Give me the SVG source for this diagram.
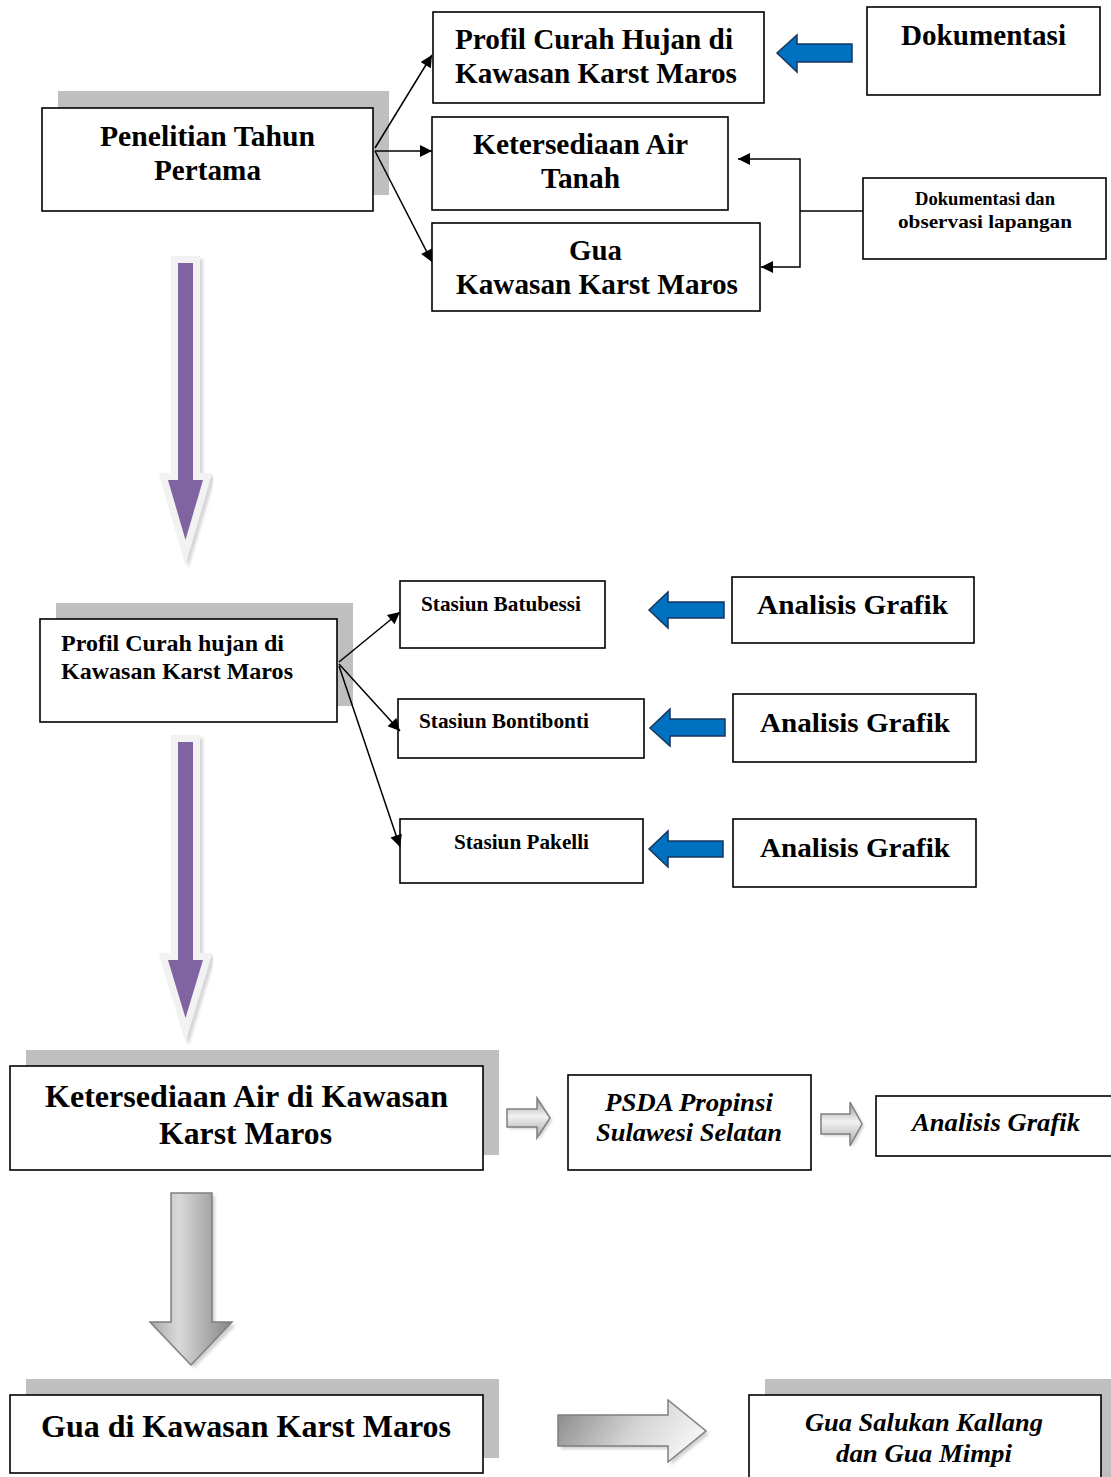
<svg xmlns="http://www.w3.org/2000/svg" width="1111" height="1477" viewBox="0 0 1111 1477">
<defs>
<style>
.box{fill:#fff;stroke:#000;stroke-width:1.6}
.shadow{fill:#BFBFBF}
.t{font-family:"Liberation Serif","Times New Roman",serif;font-weight:bold;fill:#000}
.ti{font-family:"Liberation Serif","Times New Roman",serif;font-weight:bold;font-style:italic;fill:#000}
.con{fill:none;stroke:#000;stroke-width:1.5}
.blue{fill:#0070C0;stroke:#17365D;stroke-width:1.5;stroke-linejoin:miter}
.pborder{fill:#F2F2F2;stroke:#F2F2F2;stroke-width:14;stroke-linejoin:miter}
.pshadow{fill:#C4C4C4;stroke:#C4C4C4;stroke-width:14;stroke-linejoin:miter;opacity:0.7}
.purple{fill:#8064A2}
.garrow{stroke:#7F7F7F;stroke-width:1.5;stroke-linejoin:miter}
</style>
<marker id="ah" viewBox="0 0 10 10" refX="10" refY="5" markerUnits="userSpaceOnUse" markerWidth="15" markerHeight="12" orient="auto">
<path d="M0,0 L10,5 L0,10 z" fill="#000"/>
</marker>
<filter id="blur" x="-20%" y="-20%" width="140%" height="140%"><feGaussianBlur stdDeviation="1.5"/></filter>
<linearGradient id="gsmall" x1="0" y1="0" x2="0" y2="1">
<stop offset="0" stop-color="#9A9A9A"/><stop offset="0.45" stop-color="#F2F2F2"/><stop offset="1" stop-color="#A6A6A6"/>
</linearGradient>
<linearGradient id="gbig" x1="0" y1="0" x2="1" y2="0.3">
<stop offset="0" stop-color="#858585"/><stop offset="0.6" stop-color="#D4D4D4"/><stop offset="1" stop-color="#F2F2F2"/>
</linearGradient>
<linearGradient id="gdown" x1="0" y1="0" x2="1" y2="0">
<stop offset="0" stop-color="#A8A8A8"/><stop offset="0.35" stop-color="#D9D9D9"/><stop offset="1" stop-color="#858585"/>
</linearGradient>
</defs>

<rect width="1111" height="1477" fill="#fff"/>

<!-- nodes: section 1 -->
<g id="n-penelitian">
<rect class="shadow" x="58" y="91" width="331" height="104"/>
<rect class="box" x="42" y="108" width="331" height="103"/>
<text class="t" font-size="29" x="100" y="146" textLength="215" lengthAdjust="spacingAndGlyphs">Penelitian Tahun</text>
<text class="t" font-size="29" x="154" y="180" textLength="107" lengthAdjust="spacingAndGlyphs">Pertama</text>
</g>
<g id="n-profil1">
<rect class="box" x="433" y="12" width="331" height="91"/>
<text class="t" font-size="29" x="455" y="49" textLength="278" lengthAdjust="spacingAndGlyphs">Profil Curah Hujan di</text>
<text class="t" font-size="29" x="455" y="83" textLength="282" lengthAdjust="spacingAndGlyphs">Kawasan Karst Maros</text>
</g>
<g id="n-dok1">
<rect class="box" x="867" y="7" width="233" height="88"/>
<text class="t" font-size="29" x="901" y="45" textLength="165" lengthAdjust="spacingAndGlyphs">Dokumentasi</text>
</g>
<g id="n-airtanah">
<rect class="box" x="432" y="117" width="296" height="93"/>
<text class="t" font-size="29" x="473" y="154" textLength="215" lengthAdjust="spacingAndGlyphs">Ketersediaan Air</text>
<text class="t" font-size="29" x="541" y="188" textLength="79" lengthAdjust="spacingAndGlyphs">Tanah</text>
</g>
<g id="n-gua1">
<rect class="box" x="432" y="223" width="328" height="88"/>
<text class="t" font-size="29" x="569" y="260" textLength="53" lengthAdjust="spacingAndGlyphs">Gua</text>
<text class="t" font-size="29" x="456" y="294" textLength="282" lengthAdjust="spacingAndGlyphs">Kawasan Karst Maros</text>
</g>
<g id="n-dok2">
<rect class="box" x="863" y="178" width="243" height="81"/>
<text class="t" font-size="19" x="915" y="205" textLength="140" lengthAdjust="spacingAndGlyphs">Dokumentasi dan</text>
<text class="t" font-size="19" x="898" y="228" textLength="174" lengthAdjust="spacingAndGlyphs">observasi lapangan</text>
</g>

<!-- section 2 -->
<g id="n-profil2">
<rect class="shadow" x="56" y="603" width="297" height="103"/>
<rect class="box" x="40" y="619" width="297" height="103"/>
<text class="t" font-size="24" x="61" y="651" textLength="223" lengthAdjust="spacingAndGlyphs">Profil Curah hujan di</text>
<text class="t" font-size="24" x="61" y="679" textLength="232" lengthAdjust="spacingAndGlyphs">Kawasan Karst Maros</text>
</g>
<g id="n-batubessi">
<rect class="box" x="400" y="581" width="205" height="67"/>
<text class="t" font-size="21" x="421" y="611" textLength="160" lengthAdjust="spacingAndGlyphs">Stasiun Batubessi</text>
</g>
<g id="n-bontibonti">
<rect class="box" x="398" y="699" width="246" height="59"/>
<text class="t" font-size="21" x="419" y="728" textLength="170" lengthAdjust="spacingAndGlyphs">Stasiun Bontibonti</text>
</g>
<g id="n-pakelli">
<rect class="box" x="400" y="819" width="243" height="64"/>
<text class="t" font-size="21" x="454" y="849" textLength="135" lengthAdjust="spacingAndGlyphs">Stasiun Pakelli</text>
</g>
<g id="n-analisis1">
<rect class="box" x="732" y="577" width="242" height="66"/>
<text class="t" font-size="28" x="757" y="614" textLength="191" lengthAdjust="spacingAndGlyphs">Analisis Grafik</text>
</g>
<g id="n-analisis2">
<rect class="box" x="733" y="694" width="243" height="68"/>
<text class="t" font-size="28" x="760" y="732" textLength="190" lengthAdjust="spacingAndGlyphs">Analisis Grafik</text>
</g>
<g id="n-analisis3">
<rect class="box" x="733" y="819" width="243" height="68"/>
<text class="t" font-size="28" x="760" y="857" textLength="190" lengthAdjust="spacingAndGlyphs">Analisis Grafik</text>
</g>

<!-- section 3 -->
<g id="n-airkarst">
<rect class="shadow" x="26" y="1050" width="473" height="105"/>
<rect class="box" x="10" y="1066" width="473" height="104"/>
<text class="t" font-size="32" x="45" y="1107" textLength="403" lengthAdjust="spacingAndGlyphs">Ketersediaan Air di Kawasan</text>
<text class="t" font-size="32" x="159" y="1144" textLength="173" lengthAdjust="spacingAndGlyphs">Karst Maros</text>
</g>
<g id="n-psda">
<rect class="box" x="568" y="1075" width="243" height="95"/>
<text class="ti" font-size="26" x="605" y="1111" textLength="168" lengthAdjust="spacingAndGlyphs">PSDA Propinsi</text>
<text class="ti" font-size="26" x="596" y="1141" textLength="186" lengthAdjust="spacingAndGlyphs">Sulawesi Selatan</text>
</g>
<g id="n-analisis4">
<rect class="box" x="876" y="1096" width="240" height="60"/>
<text class="ti" font-size="26" x="912" y="1131" textLength="168" lengthAdjust="spacingAndGlyphs">Analisis Grafik</text>
</g>

<!-- section 4 -->
<g id="n-gua2">
<rect class="shadow" x="26" y="1379" width="473" height="79"/>
<rect class="box" x="10" y="1395" width="473" height="78"/>
<text class="t" font-size="32" x="41" y="1437" textLength="410" lengthAdjust="spacingAndGlyphs">Gua di Kawasan Karst Maros</text>
</g>
<g id="n-salukan">
<rect class="shadow" x="765" y="1379" width="350" height="100"/>
<rect class="box" x="749" y="1395" width="352" height="90"/>
<text class="ti" font-size="26" x="805" y="1431" textLength="238" lengthAdjust="spacingAndGlyphs">Gua Salukan Kallang</text>
<text class="ti" font-size="26" x="836" y="1462" textLength="176" lengthAdjust="spacingAndGlyphs">dan Gua Mimpi</text>
</g>

<!-- connectors -->
<g id="connectors">
<path class="con" d="M375,148 L432,55" marker-end="url(#ah)"/>
<path class="con" d="M375,151 L432,151" marker-end="url(#ah)"/>
<path class="con" d="M375,151 L432,262" marker-end="url(#ah)"/>
<path class="con" d="M863,211 H800"/>
<path class="con" d="M800,211 V159 H738" marker-end="url(#ah)"/>
<path class="con" d="M800,211 V267 H761" marker-end="url(#ah)"/>
<path class="con" d="M339,662 L400,612" marker-end="url(#ah)"/>
<path class="con" d="M339,664 L400,731" marker-end="url(#ah)"/>
<path class="con" d="M339,666 L400,847" marker-end="url(#ah)"/>

<!-- blue block arrows -->
<path class="blue" d="M852,44 H797 V35 L777,53 L797,72 V62 H852 Z"/>
<path class="blue" d="M724,602 H668 V592 L649,610 L668,628 V618 H724 Z"/>
<path class="blue" d="M725,719 H670 V709 L650,728 L670,746 V736 H725 Z"/>
<path class="blue" d="M723,841 H668 V831 L649,849 L668,867 V857 H723 Z"/>

<!-- purple arrows -->
<polygon class="pshadow" filter="url(#blur)" points="181,266 196,266 196,483 206,483 188.5,543 171,483 181,483"/>
<polygon class="pborder" points="178,263 193,263 193,480 203,480 185.5,540 168,480 178,480"/>
<polygon class="purple" points="178,263 193,263 193,480 203,480 185.5,540 168,480 178,480"/>

<polygon class="pshadow" filter="url(#blur)" points="181,745 196,745 196,963 206,963 188.5,1021 171,963 181,963"/>
<polygon class="pborder" points="178,742 193,742 193,960 203,960 185.5,1018 168,960 178,960"/>
<polygon class="purple" points="178,742 193,742 193,960 203,960 185.5,1018 168,960 178,960"/>

<!-- gray arrows -->
<path fill="#CFCFCF" filter="url(#blur)" d="M509,1111 H539 V1100 L552,1120 L539,1140 V1129 H509 Z"/>
<path class="garrow" fill="url(#gsmall)" d="M507,1109 H537 V1098 L550,1118 L537,1138 V1127 H507 Z"/>
<path fill="#CFCFCF" filter="url(#blur)" d="M823,1116 H852 V1104 L864,1126 L852,1148 V1136 H823 Z"/>
<path class="garrow" fill="url(#gsmall)" d="M821,1114 H850 V1102 L862,1124 L850,1146 V1134 H821 Z"/>
<path fill="#D0D0D0" filter="url(#blur)" d="M174,1196 H215 V1325 H236 L194,1368 L153,1325 H174 Z"/>
<path class="garrow" fill="url(#gdown)" d="M171,1193 H212 V1322 H232 L191,1365 L150,1322 H171 Z"/>
<path fill="#D0D0D0" filter="url(#blur)" d="M561,1418 H671 V1403 L709,1434 L671,1465 V1449 H561 Z"/>
<path class="garrow" fill="url(#gbig)" d="M558,1415 H668 V1400 L706,1431 L668,1462 V1446 H558 Z"/>
</g>
</svg>
